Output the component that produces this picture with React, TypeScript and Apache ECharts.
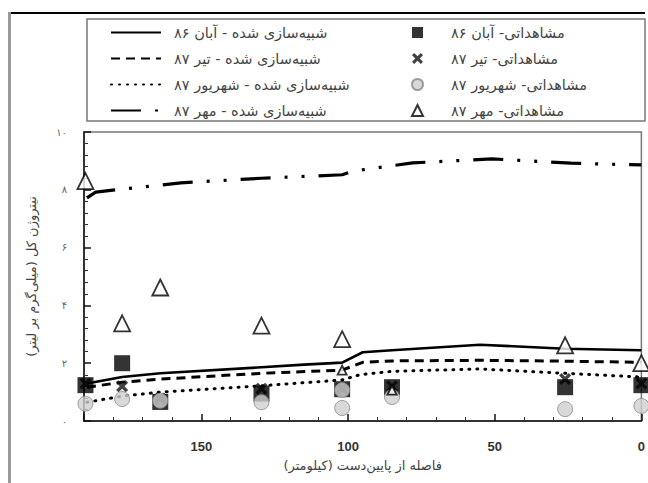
import React, { useEffect, useRef } from "react";
import * as echarts from "echarts";

// ---- Tick labels ----
const yTickLabels = ["۰", "۲", "۴", "۶", "۸", "۱۰"];

// ---- Legend names ----
const simNames = [
  "شبیه‌سازی شده - آبان ۸۶",
  "شبیه‌سازی شده - تیر ۸۷",
  "شبیه‌سازی شده - شهریور ۸۷",
  "شبیه‌سازی شده - مهر ۸۷",
];
const obsNames = [
  "مشاهداتی- آبان ۸۶",
  "مشاهداتی- تیر ۸۷",
  "مشاهداتی- شهریور ۸۷",
  "مشاهداتی- مهر ۸۷",
];

// ---- Simulated series (km from downstream, value mg/L) ----
const simAban86Km = [189, 177, 164, 129.5, 115, 102, 95, 85, 55, 26, 0];
const simAban86 = [1.3, 1.52, 1.65, 1.86, 1.95, 2.02, 2.38, 2.45, 2.64, 2.5, 2.45];

const simTir87Km = [189, 177, 164, 129.5, 102, 95, 85, 55, 26, 0];
const simTir87 = [1.17, 1.34, 1.45, 1.65, 1.76, 2.03, 2.08, 2.1, 2.07, 2.03];

const simShahrivar87Km = [189, 177, 164, 129.5, 102, 96, 85, 55, 26, 0];
const simShahrivar87 = [0.65, 0.86, 1.0, 1.22, 1.42, 1.6, 1.72, 1.8, 1.65, 1.52];

const simMehr87Km = [189, 186, 179, 157, 129.5, 102, 98, 78, 51, 24, 0];
const simMehr87 = [7.72, 7.92, 8.0, 8.24, 8.4, 8.52, 8.65, 8.93, 9.07, 8.92, 8.86];

// ---- Observations ----
const obsAban86Km = [189.5, 177, 164, 129.5, 102, 85, 26, 0];
const obsAban86 = [1.24, 2.0, 0.66, 0.95, 1.1, 1.17, 1.17, 1.24];

const obsTir87Km = [189.5, 177, 164, 129.5, 102, 85, 26, 0];
const obsTir87 = [1.3, 1.2, 0.78, 1.12, 1.12, 1.2, 1.45, 1.3];

const obsShahrivar87Km = [189.5, 177, 164, 129.5, 102, 102, 85, 26, 0];
const obsShahrivar87 = [0.6, 0.76, 0.7, 0.65, 1.07, 0.45, 0.83, 0.41, 0.52];

const obsMehr87Km = [189.5, 177, 164, 129.5, 102, 102, 85, 26, 0];
const obsMehr87 = [8.3, 3.38, 4.62, 3.3, 2.83, 1.76, 1.07, 2.62, 2.0];
const obsMehr87Small = [false, false, false, false, false, true, true, false, false];

const zip = (xs: number[], ys: number[]) => xs.map((x, i) => [x, ys[i]]);

const AR_FONT = "DejaVu Sans";

export default function App() {
  const ref = useRef<HTMLDivElement>(null);

  useEffect(() => {
    if (!ref.current) return;
    const chart = echarts.init(ref.current, null, { renderer: "svg" });

    const lineBase = { type: "line" as const, symbol: "none", showSymbol: false, smooth: false, silent: true };

    const option: any = {
      animation: false,
      backgroundColor: "#fff",
      grid: {
        left: 84,
        right: 5,
        top: 132,
        bottom: 62,
        show: true,
        borderColor: "#777",
        borderWidth: 1.5,
      },
      legend: [
        {
          data: simNames,
          orient: "vertical",
          left: 110,
          top: 25,
          padding: 0,
          itemWidth: 50,
          itemHeight: 14,
          itemGap: 11,
          itemStyle: { color: "transparent", borderColor: "transparent", borderWidth: 0 },
          textStyle: { fontFamily: AR_FONT, fontSize: 14.5, color: "#444", padding: [0, 0, 0, 8] },
          selectedMode: false,
        },
        {
          data: obsNames,
          orient: "vertical",
          left: 411,
          top: 25,
          padding: 0,
          itemWidth: 11,
          itemHeight: 11,
          itemGap: 11,
          textStyle: { fontFamily: AR_FONT, fontSize: 14.5, color: "#444", padding: [0, 0, 0, 23] },
          selectedMode: false,
        },
      ],
      xAxis: {
        type: "value",
        min: 0,
        max: 190,
        interval: 50,
        inverse: true,
        name: "فاصله از پایین‌دست (کیلومتر)",
        nameLocation: "middle",
        nameGap: 38,
        nameTextStyle: { fontFamily: AR_FONT, fontSize: 13, color: "#444" },
        axisLine: { show: true, onZero: false, lineStyle: { color: "#111", width: 1.5 } },
        axisTick: { show: true, inside: true, length: 7, lineStyle: { color: "#111", width: 1.5 } },
        minorTick: { show: true, splitNumber: 5, length: 4, lineStyle: { color: "#333", width: 1 } },
        axisLabel: {
          showMaxLabel: false,
          margin: 19,
          fontFamily: "Liberation Sans",
          fontWeight: "bold",
          fontSize: 13,
          color: "#333",
        },
        splitLine: { show: false },
      },
      yAxis: {
        type: "value",
        min: 0,
        max: 10,
        interval: 2,
        position: "left",
        name: "نیتروژن کل (میلی‌گرم بر لیتر)",
        nameLocation: "middle",
        nameRotate: 90,
        nameGap: 46,
        nameTextStyle: { fontFamily: AR_FONT, fontSize: 13, color: "#444" },
        axisLine: { show: true, onZero: false, lineStyle: { color: "#111", width: 1.5 } },
        axisTick: { show: true, inside: true, length: 7, lineStyle: { color: "#111", width: 1.5 } },
        minorTick: { show: true, splitNumber: 5, length: 4, lineStyle: { color: "#333", width: 1 } },
        axisLabel: {
          margin: 17,
          fontFamily: AR_FONT,
          fontSize: 10,
          color: "#666",
          formatter: (v: number) => yTickLabels[Math.round(v / 2)] ?? "",
        },
        splitLine: { show: false },
      },
      series: [
        {
          ...lineBase,
          name: simNames[0],
          data: zip(simAban86Km, simAban86),
          lineStyle: { color: "#000", width: 2.6, type: "solid" },
          itemStyle: { color: "#000" },
          z: 3,
        },
        {
          ...lineBase,
          name: simNames[1],
          data: zip(simTir87Km, simTir87),
          lineStyle: { color: "#000", width: 3, type: [9, 6] },
          itemStyle: { color: "#000" },
          z: 3,
        },
        {
          ...lineBase,
          name: simNames[2],
          data: zip(simShahrivar87Km, simShahrivar87),
          lineStyle: { color: "#000", width: 3, type: [1, 7], cap: "round" },
          itemStyle: { color: "#000" },
          z: 3,
        },
        {
          ...lineBase,
          name: simNames[3],
          data: zip(simMehr87Km, simMehr87),
          lineStyle: { color: "#000", width: 3.2, type: [30, 14, 3, 14, 3, 14] },
          itemStyle: { color: "#000" },
          z: 3,
        },
        {
          type: "scatter",
          name: obsNames[1],
          data: zip(obsTir87Km, obsTir87),
          symbol: "path://M2,0L5,3L8,0L10,2L7,5L10,8L8,10L5,7L2,10L0,8L3,5L0,2Z",
          symbolSize: 12,
          itemStyle: { color: "#111" },
          z: 4,
        },
        {
          type: "scatter",
          name: obsNames[0],
          data: zip(obsAban86Km, obsAban86),
          symbol: "rect",
          symbolSize: 16,
          itemStyle: { color: "#000" },
          z: 5,
        },
        {
          type: "scatter",
          name: obsNames[2],
          data: zip(obsShahrivar87Km, obsShahrivar87),
          symbol: "circle",
          symbolSize: 15,
          itemStyle: { color: "#cfcfcf", borderColor: "#888", borderWidth: 1 },
          z: 6,
        },
        {
          type: "scatter",
          name: obsNames[3],
          data: obsMehr87Km.map((x, i) => ({
            value: [x, obsMehr87[i]],
            symbolSize: obsMehr87Small[i] ? 9 : 16,
          })),
          symbol: "triangle",
          symbolSize: 16,
          itemStyle: { color: "#fff", borderColor: "#000", borderWidth: 1.8 },
          z: 7,
        },
      ],
      graphic: [
        {
          type: "line",
          shape: { x1: 10, y1: 13, x2: 645, y2: 13 },
          style: { stroke: "#000", lineWidth: 2 },
          silent: true,
        },
        {
          type: "line",
          shape: { x1: 9.5, y1: 12, x2: 9.5, y2: 483 },
          style: { stroke: "#999", lineWidth: 3 },
          silent: true,
        },
        {
          type: "rect",
          shape: { x: 87, y: 19, width: 558, height: 102 },
          style: { fill: "none", stroke: "#777", lineWidth: 1.5 },
          silent: true,
          z: -1,
        },
      ],
    };

    chart.setOption(option);
    return () => chart.dispose();
  }, []);

  return (
    <div
      ref={ref}
      style={{ position: "fixed", left: 0, top: 0, width: 648, height: 483, background: "#fff" }}
    />
  );
}
